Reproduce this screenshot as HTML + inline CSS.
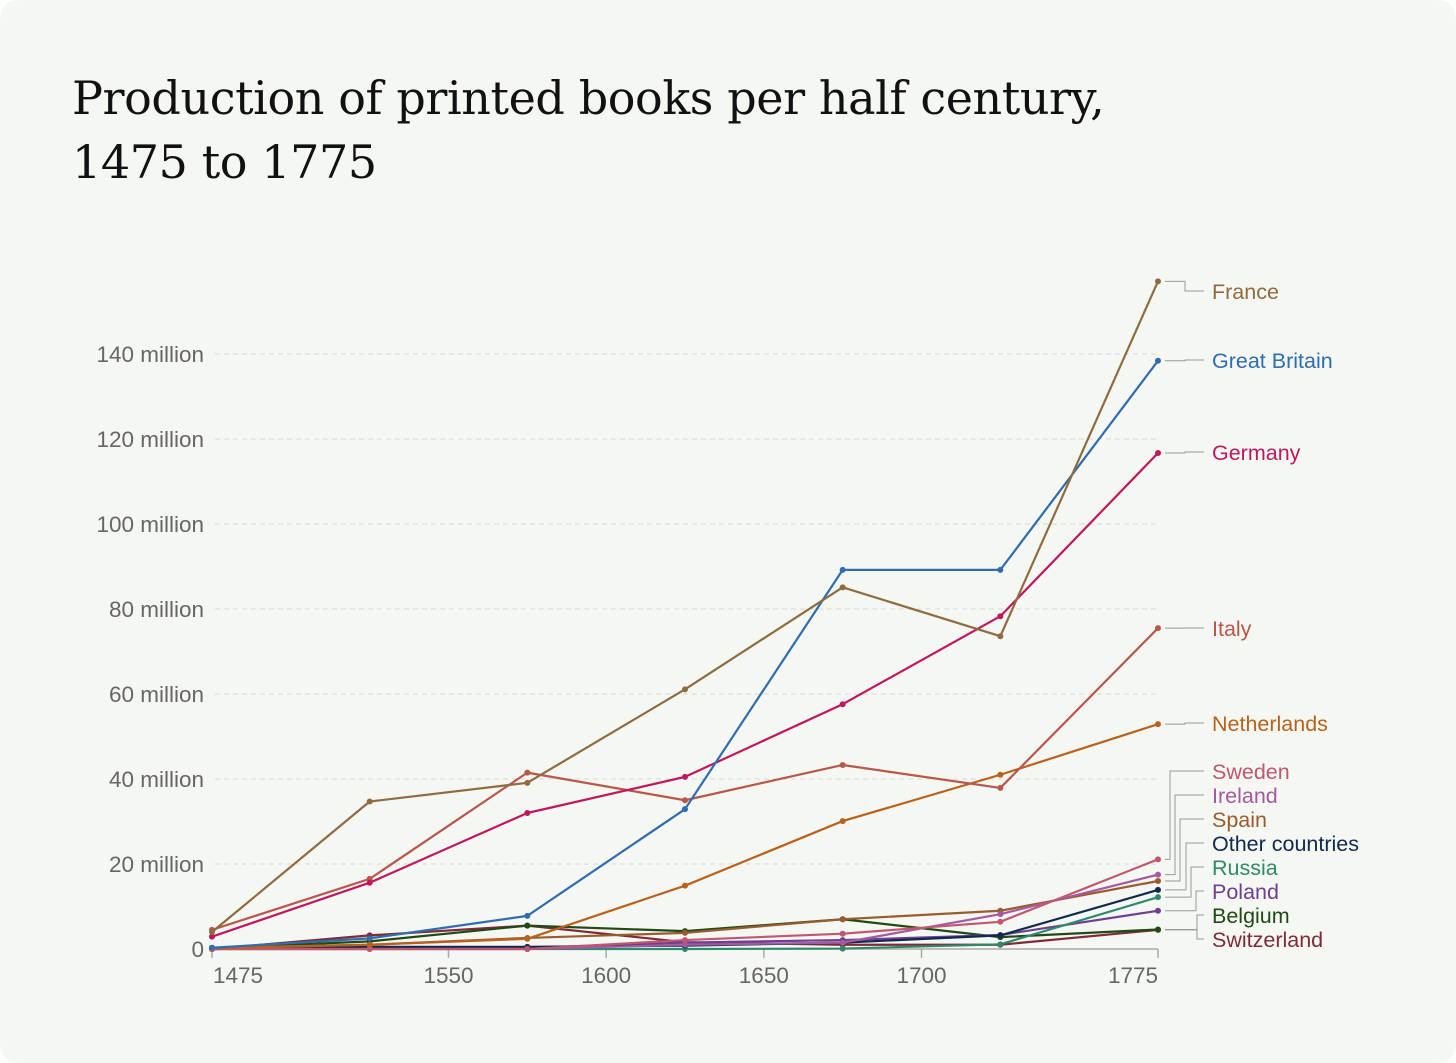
<!DOCTYPE html>
<html><head><meta charset="utf-8">
<style>
html,body{margin:0;padding:0;background:#fff;}
#card{position:absolute;left:0;top:0;width:1456px;height:1063px;background:#f5f7f3;border-radius:18px;overflow:hidden;}
h1{position:absolute;left:72px;top:66px;margin:0;font-family:"DejaVu Serif","Liberation Serif",serif;font-weight:normal;font-size:46px;line-height:64px;color:#111;letter-spacing:-0.4px;}
svg{position:absolute;left:0;top:0;}
</style></head><body>
<div id="card">
<h1>Production of printed books per half century,<br>1475 to 1775</h1>
<svg id="chart" width="1456" height="1063"></svg>
</div>
<script>
const years=[1475,1525,1575,1625,1675,1725,1775];
const seriesNames=["France","Great Britain","Germany","Italy","Netherlands","Sweden","Ireland","Spain","Other countries","Russia","Poland","Belgium","Switzerland"];
const franceVals=[4,34.7,39.1,61.1,85.1,73.6,157.1];
const britainVals=[0.3,2.5,7.8,32.9,89.2,89.2,138.4];
const germanyVals=[2.9,15.6,32,40.5,57.6,78.3,116.7];
const italyVals=[4.5,16.5,41.5,35,43.3,37.9,75.5];
const netherlandsVals=[0.2,1,2.4,14.9,30.1,41,52.9];
const swedenVals=[0,0,0,2.1,3.6,6.4,21.1];
const irelandVals=[0,0,0,1,1.5,8.2,17.5];
const spainVals=[0.3,1,2.6,3.8,7,9,16];
const otherVals=[0,0.5,0.5,0.8,1.5,3.2,13.9];
const russiaVals=[0,0,0,0,0.1,1.1,12.2];
const polandVals=[0,0.3,0.3,1.5,2.1,3.3,9];
const belgiumVals=[0.2,1.8,5.5,4.2,7,2.8,4.6];
const switzerlandVals=[0,3.2,5.5,1.6,1,1,4.5];
const yTicks=[0,20,40,60,80,100,120,140];
const yTickLabels=["0","20 million","40 million","60 million","80 million","100 million","120 million","140 million"];
const xTicks=[1475,1550,1600,1650,1700,1775];

const allVals=[franceVals,britainVals,germanyVals,italyVals,netherlandsVals,swedenVals,irelandVals,spainVals,otherVals,russiaVals,polandVals,belgiumVals,switzerlandVals];
const colors=["#8f6c3f","#2f6cb0","#c0175e","#b8574a","#b8621b","#c0576f","#a45aa0","#9a5b2e","#10294f","#2e8a6a","#6e3f93","#1f4a16","#7f2a36"];
const labelY=[292,361,453,629,724,772,796,820,844,868,892,916,940];
const elbowX=[1185,1185,1185,1185,1185,1170,1175,1180,1186,1191,1196,1197,1197];

const NS="http://www.w3.org/2000/svg";
const svg=document.getElementById('chart');
const X=y=>212+(y-1475)*(1158-212)/300;
const Y=v=>949-v*4.25;
function mk(tag,attrs,parent){const e=document.createElementNS(NS,tag);for(const k in attrs)e.setAttribute(k,attrs[k]);(parent||svg).appendChild(e);return e;}

yTicks.forEach((t,i)=>{
  if(t>0){const g=mk('line',{x1:215,x2:1158,y1:Y(t),y2:Y(t),stroke:'#d6d8d5','stroke-dasharray':'5,4','stroke-width':1});
  
  }
  const tx=mk('text',{x:204,y:Y(t)+8,'text-anchor':'end','font-family':'Liberation Sans, sans-serif','font-size':22.5,fill:'#666'});
  tx.textContent=yTickLabels[i];
  
  
});
const ax=mk('line',{x1:212,x2:1158,y1:949,y2:949,stroke:'#aaa','stroke-width':1.5});


xTicks.forEach((t,i)=>{
  const tk=mk('line',{x1:X(t),x2:X(t),y1:949,y2:958,stroke:'#aaa','stroke-width':1.5});
  
  
  const anchor=i==0?'start':(i==xTicks.length-1?'end':'middle');
  const tx=mk('text',{x:X(t)+(i==0?1:0),y:983,'text-anchor':anchor,'font-family':'Liberation Sans, sans-serif','font-size':22.5,fill:'#666'});
  tx.textContent=t;
  
  
});
for(let s=allVals.length-1;s>=0;s--){
  const vals=allVals[s];
  const pts=vals.map((v,i)=>X(years[i])+','+Y(v)).join(' ');
  const pl=mk('polyline',{points:pts,fill:'none',stroke:colors[s],'stroke-width':2.2,'stroke-linejoin':'round'});
  
  
  vals.forEach((v,i)=>{
    const c=mk('circle',{cx:X(years[i]),cy:Y(v),r:3,fill:colors[s]});
    
    
  });
  const py=Y(vals[vals.length-1]), ly=labelY[s], ex=elbowX[s];
  const ld=mk('polyline',{points:`1165,${py} ${ex},${py} ${ex},${ly-1} 1204,${ly-1}`,fill:'none',stroke:'#999','stroke-width':1});
  
  
  const lt=mk('text',{x:1212,y:ly+7,'font-family':'Liberation Sans, sans-serif','font-size':21.5,fill:colors[s]});
  lt.textContent=seriesNames[s];
  
  
}
</script>
</body></html>
